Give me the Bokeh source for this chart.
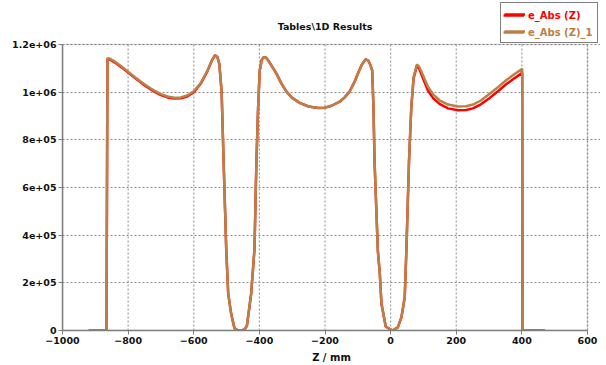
from bokeh.plotting import figure
from bokeh.models import Legend, LegendItem, FixedTicker, BoxAnnotation, Label
from bokeh.embed import file_html
from bokeh.resources import INLINE

# ---- data ----
z = [-920, -866, -863, -855, -840, -820, -800, -780, -760, -740, -720, -700,
     -680, -660, -640, -620, -600, -580, -560, -545, -535, -528, -522, -515,
     -509, -501, -495, -486, -476, -465, -455, -445, -438, -425, -415, -409,
     -404, -399, -393, -387, -380, -374, -360, -348, -333, -318, -300, -277,
     -250, -220, -200, -180, -155, -140, -125, -110, -100, -88, -76, -68,
     -62, -56, -52, -49, -39, -33, -28, -15, 5, 22, 33, 43,
     48, 56, 63, 70, 80, 87, 94, 114, 130, 149, 175, 205,
     230, 251, 275, 302, 328, 353, 378, 401, 402, 470]

e_abs_1 = [0, 0, 1143000, 1140000, 1128000, 1108000, 1086000, 1064000, 1043000, 1024000, 1006000, 992000,
           982000, 977000, 978000, 986000, 1004000, 1036000, 1085000, 1133000, 1155000, 1148000, 1118000, 1000000,
           710000, 340000, 155000, 70000, 10000, 0, 0, 5000, 20000, 155000, 340000, 710000,
           930000, 1090000, 1135000, 1147000, 1145000, 1135000, 1105000, 1078000, 1037000, 1003000, 976000, 955000,
           940000, 934000, 935000, 943000, 960000, 978000, 1003000, 1043000, 1077000, 1115000, 1138000, 1132000,
           1115000, 1090000, 920000, 710000, 336000, 240000, 113000, 17000, 0, 13000, 56000, 140000,
           336000, 710000, 937000, 1063000, 1116000, 1107000, 1086000, 1022000, 990000, 966000, 948000, 940000,
           941000, 948000, 965000, 993000, 1022000, 1051000, 1076000, 1098000, 0, 0]

e_abs = [0, 0, 1140000, 1136000, 1124000, 1104000, 1082000, 1060000, 1039000, 1020000, 1002000, 988000,
         978000, 973000, 974000, 982000, 1000000, 1033000, 1083000, 1132000, 1155000, 1148000, 1118000, 1000000,
         710000, 340000, 155000, 70000, 10000, 0, 0, 5000, 20000, 155000, 340000, 710000,
         930000, 1090000, 1135000, 1147000, 1145000, 1135000, 1105000, 1078000, 1037000, 1003000, 976000, 955000,
         940000, 934000, 935000, 943000, 960000, 978000, 1003000, 1043000, 1077000, 1115000, 1138000, 1132000,
         1115000, 1090000, 920000, 710000, 336000, 240000, 113000, 17000, 0, 13000, 56000, 140000,
         336000, 710000, 935000, 1058000, 1111000, 1098000, 1074000, 1006000, 974000, 951000, 932000, 924000,
         925000, 932000, 949000, 976000, 1005000, 1034000, 1059000, 1081000, 0, 0]

x_ticks = [-1000, -800, -600, -400, -200, 0, 200, 400, 600]
y_ticks = [0, 200000, 400000, 600000, 800000, 1000000, 1200000]
y_tick_labels = ["0", "2e+05", "4e+05", "6e+05", "8e+05", "1e+06", "1.2e+06"]

series_names = ["e_Abs (Z)", "e_Abs (Z)_1"]
series_colors = ["#ff0000", "#ba8048"]
title_text = "Tables\\1D Results"

FONT = "DejaVu Sans"
GRAY = "#7f7f7f"

# Layout: the frame is larger than the visible plot box so that the title and
# the legend (which sit outside the box) are drawn inside the frame.
W, H = 600, 365
LEFT, BOTTOM = 62, 35
BOX_TOP, BOX_RIGHT_PAD = 44, 13
FRAME_W, FRAME_H = W - LEFT, H - BOTTOM
X_MIN, X_MAX = x_ticks[0], x_ticks[-1]
Y_MAX = y_ticks[-1]
x_end = X_MIN + (X_MAX - X_MIN) * FRAME_W / (FRAME_W - BOX_RIGHT_PAD)
y_end = Y_MAX * FRAME_H / (FRAME_H - BOX_TOP)

p = figure(width=W, height=H, x_range=(X_MIN, x_end), y_range=(0, y_end),
           output_backend="svg", toolbar_location=None)
p.min_border_left = LEFT
p.min_border_right = 0
p.min_border_top = 0
p.min_border_bottom = BOTTOM
p.outline_line_color = None

# vertical grid lines, limited to the plot box
n = len(x_ticks)
p.segment(x0=x_ticks, y0=[0] * n, x1=x_ticks, y1=[Y_MAX] * n,
          line_color="#a0a0a0", line_dash="2 2", line_width=1.2)

r_red = p.line(z, e_abs, line_color=series_colors[0], line_width=2.5)
r_tan = p.line(z, e_abs_1, line_color=series_colors[1], line_width=2.5)

# axes
for ax in (p.xaxis[0], p.yaxis[0]):
    ax.axis_line_color = GRAY
    ax.axis_line_width = 1.5
    ax.major_tick_line_color = GRAY
    ax.major_tick_out = 4
    ax.major_tick_in = 0
    ax.minor_tick_line_color = None
    ax.major_label_text_font = FONT
    ax.major_label_text_font_style = "bold"
    ax.major_label_text_font_size = "9.5px"
    ax.major_label_text_color = "#111111"
    ax.major_label_standoff = 2

p.xaxis.ticker = FixedTicker(ticks=x_ticks)
p.xaxis.bounds = (X_MIN, X_MAX)
p.yaxis.ticker = FixedTicker(ticks=y_ticks)
p.yaxis.bounds = (0, Y_MAX)
p.yaxis.major_label_overrides = {t: l for t, l in zip(y_ticks, y_tick_labels)}

p.xaxis.axis_label = "Z / mm"
p.xaxis.axis_label_text_font = FONT
p.xaxis.axis_label_text_font_style = "bold"
p.xaxis.axis_label_text_font_size = "10px"
p.xaxis.axis_label_text_color = "#111111"
p.xaxis.axis_label_standoff = 5

# border of the plot box
p.add_layout(BoxAnnotation(left=X_MIN, right=X_MAX, bottom=0, top=Y_MAX,
                           fill_alpha=0.0, line_color=GRAY, line_width=1.5))

p.xgrid.visible = False
p.ygrid.grid_line_color = "#8a8a8a"
p.ygrid.grid_line_dash = "2 2"
p.ygrid.grid_line_width = 1.2
p.ygrid.bounds = (X_MIN, X_MAX)

# title
p.add_layout(Label(x=(FRAME_W - BOX_RIGHT_PAD) / 2, y=FRAME_H - 26,
                   x_units="screen", y_units="screen",
                   text=title_text, text_align="center", text_baseline="middle",
                   text_font=FONT, text_font_style="bold", text_font_size="9.5px",
                   text_color="#111111"))

# legend: a bordered box plus one overlay per coloured entry
common = dict(padding=3, spacing=1, margin=0, glyph_width=21, glyph_height=16,
              label_height=16, label_width=65, label_standoff=4,
              label_text_font=FONT, label_text_font_style="bold",
              label_text_font_size="10px")
item_red = LegendItem(label=series_names[0], renderers=[r_red])
item_tan = LegendItem(label=series_names[1], renderers=[r_tan])

box = Legend(items=[item_red, item_tan], location=(438, 287),
             border_line_color="black", border_line_width=1.5,
             background_fill_color="white", background_fill_alpha=1.0,
             label_text_alpha=0.0, **common)
leg_red = Legend(items=[LegendItem(label=series_names[0], renderers=[r_red])],
                 location=(438, 304), border_line_alpha=0.0, background_fill_alpha=0.0,
                 label_text_color=series_colors[0], **common)
leg_tan = Legend(items=[LegendItem(label=series_names[1], renderers=[r_tan])],
                 location=(438, 287), border_line_alpha=0.0, background_fill_alpha=0.0,
                 label_text_color=series_colors[1], **common)
p.add_layout(box)
p.add_layout(leg_red)
p.add_layout(leg_tan)

open("out.html", "w").write(file_html(p, INLINE))
